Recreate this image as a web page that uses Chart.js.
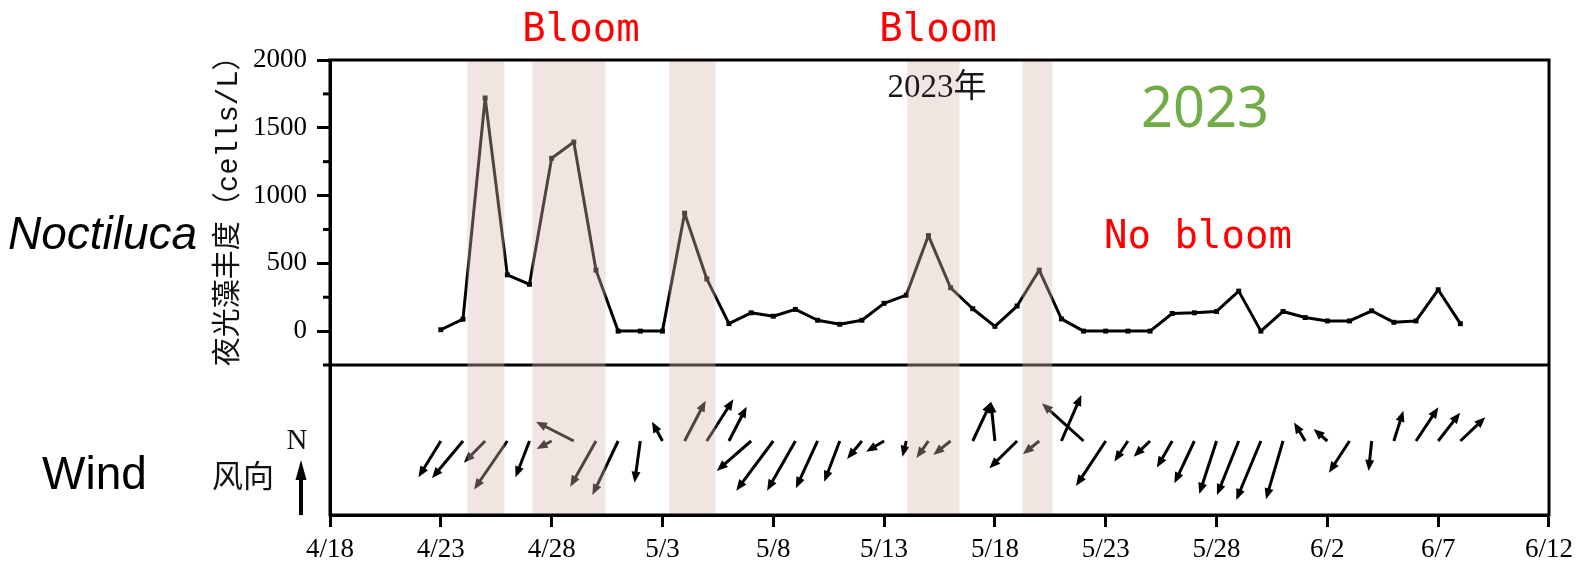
<!DOCTYPE html>
<html>
<head>
<meta charset="utf-8">
<script src="https://cdn.jsdelivr.net/npm/chart.js@4.4.0/dist/chart.umd.min.js"></script>
<style>
  html, body { margin: 0; padding: 0; background: #fff; }
  #wrap { width: 1580px; height: 569px; }
</style>
</head>
<body>
<div id="wrap"><canvas id="chart" width="1580" height="569"></canvas></div>
<script>
// daily samples, 2023
const sampleDates = [
    '4/23', '4/24', '4/25', '4/26', '4/27', '4/28', '4/29', '4/30',
    '5/1', '5/2', '5/3', '5/4', '5/5', '5/6', '5/7', '5/8', '5/9', '5/10',
    '5/11', '5/12', '5/13', '5/14', '5/15', '5/16', '5/17', '5/18', '5/19', '5/20',
    '5/21', '5/22', '5/23', '5/24', '5/25', '5/26', '5/27', '5/28', '5/29', '5/30', '5/31',
    '6/1', '6/2', '6/3', '6/4', '6/5', '6/6', '6/7', '6/8'
];

// Noctiluca abundance (cells/L)
const abundance = [
    10, 88, 1720, 415, 345, 1275, 1395, 450,
    0, 0, 0, 870, 385, 55, 135, 110, 160, 80,
    50, 80, 205, 265, 705, 320, 165, 35, 185, 450,
    90, 0, 0, 0, 0, 130, 135, 145, 295, 0, 145,
    100, 75, 75, 150, 65, 75, 305, 55
];

// wind vector components (east, north), in arrow-length units
const windU = [
    -1.01, -1.40, -0.96, -1.50, -0.63, -0.68, -1.71, -1.16,
    -1.16, -0.26, -0.47, 0.95, 1.20, 0.80, -1.55, -1.67, -1.28, -0.98,
    -0.70, -0.67, -0.81, -0.17, -0.54, -0.78, 0.83, -0.18, -1.25, -0.74,
    0.90, -1.88, -1.34, -0.61, -0.74, -0.69, -0.90, -0.78, -0.98, -1.11, -0.77,
    -0.50, -0.62, -0.93, -0.14, 0.43, 1.01, 0.99, 1.13
];
const windV = [
    -1.64, -1.68, -0.98, -2.19, -1.64, -0.36, 0.87, -2.06,
    -2.44, -1.88, 0.87, 1.82, 1.88, 1.55, -1.35, -2.24, -2.24, -2.13,
    -1.84, -0.81, -0.48, -0.71, -0.77, -0.63, 1.77, 1.77, -1.23, -0.60,
    2.08, 1.70, -2.03, -0.93, -0.71, -1.20, -1.91, -2.39, -2.44, -2.66, -2.63,
    0.84, 0.54, -1.43, -1.35, 1.37, 1.52, 1.28, 1.07
];

// bloom periods, in days after 4/18
const bloomStart = [6.2, 9.13, 15.31, 26.05, 31.24];
const bloomEnd = [7.87, 12.43, 17.39, 28.4, 32.59];

const xTickLabels = ['4/18', '4/23', '4/28', '5/3', '5/8', '5/13', '5/18', '5/23', '5/28', '6/2', '6/7', '6/12'];
const yTickValues = [0, 500, 1000, 1500, 2000];
const yMinorTicks = [-250, 250, 750, 1250, 1750];

const START = Date.UTC(2023, 3, 18);
function dayOf(label) {
    const [m, d] = label.split('/').map(Number);
    return (Date.UTC(2023, m - 1, d) - START) / 86400000;
}

const serif = "'Liberation Serif', 'Noto Sans CJK SC', serif";

function drawArrow(ctx, x0, y0, x1, y1, width, headLen, headHalf) {
    const ang = Math.atan2(y1 - y0, x1 - x0);
    const len = Math.hypot(x1 - x0, y1 - y0);
    ctx.save();
    ctx.translate(x0, y0);
    ctx.rotate(ang);
    ctx.lineWidth = width;
    ctx.lineCap = 'butt';
    ctx.beginPath();
    ctx.moveTo(0, 0);
    ctx.lineTo(len - headLen + 1, 0);
    ctx.stroke();
    ctx.beginPath();
    ctx.moveTo(len, 0);
    ctx.lineTo(len - headLen, -headHalf);
    ctx.lineTo(len - headLen, headHalf);
    ctx.closePath();
    ctx.fill();
    ctx.restore();
}

const panelDecor = {
    id: 'panelDecor',
    afterDatasetsDraw(chart) {
        const { ctx, chartArea, scales } = chart;
        const x = scales.x, y = scales.y, yw = scales.yWind;
        ctx.save();
        ctx.strokeStyle = '#000';
        ctx.fillStyle = '#000';
        ctx.lineWidth = 3;

        // divider between the two panels
        ctx.beginPath();
        ctx.moveTo(chartArea.left, yw.top);
        ctx.lineTo(chartArea.right, yw.top);
        ctx.stroke();

        // minor ticks on the abundance axis
        yMinorTicks.forEach(v => {
            const py = y.getPixelForValue(v);
            ctx.beginPath();
            ctx.moveTo(chartArea.left - 7, py);
            ctx.lineTo(chartArea.left, py);
            ctx.stroke();
        });

        // wind arrows
        sampleDates.forEach((d, i) => {
            const t = dayOf(d);
            drawArrow(ctx,
                x.getPixelForValue(t), yw.getPixelForValue(0),
                x.getPixelForValue(t + windU[i]), yw.getPixelForValue(windV[i]),
                3, 11, 4.5);
        });

        // bloom bands
        ctx.fillStyle = 'rgba(215,185,170,0.37)';
        bloomStart.forEach((s, i) => {
            const a = x.getPixelForValue(s);
            const b = x.getPixelForValue(bloomEnd[i]);
            ctx.fillRect(a, chartArea.top, b - a, chartArea.bottom - chartArea.top);
        });

        // frame
        ctx.strokeRect(chartArea.left, chartArea.top,
            chartArea.right - chartArea.left, chartArea.bottom - chartArea.top);
        ctx.restore();
    },
    afterDraw(chart) {
        const ctx = chart.ctx;
        ctx.save();
        ctx.textBaseline = 'alphabetic';

        ctx.fillStyle = '#ff0000';
        ctx.font = "39px 'DejaVu Sans Mono'";
        ctx.textAlign = 'center';
        ctx.fillText('Bloom', 581, 41);
        ctx.fillText('Bloom', 938, 41);
        ctx.fillText('No bloom', 1198, 248);

        ctx.fillStyle = '#70ad47';
        ctx.font = "56px 'Noto Sans'";
        ctx.fillText('2023', 1205, 127);

        ctx.fillStyle = '#1a1a1a';
        ctx.font = '33px ' + serif;
        ctx.fillText('2023年', 937, 97);

        ctx.fillStyle = '#000';
        ctx.textAlign = 'left';
        ctx.font = "italic 46px 'Liberation Sans'";
        ctx.fillText('Noctiluca', 8, 249);
        ctx.font = "46px 'Liberation Sans'";
        ctx.fillText('Wind', 42, 489);

        ctx.fillStyle = '#111';
        ctx.textBaseline = 'middle';
        ctx.font = "31px 'Noto Sans CJK SC'";
        ctx.fillText('风向', 212, 475);

        ctx.textAlign = 'center';
        ctx.font = '29px ' + serif;
        ctx.fillText('N', 297, 441);

        // north reference arrow
        ctx.strokeStyle = '#000';
        ctx.fillStyle = '#000';
        drawArrow(ctx, 301, 515, 301, 460, 4, 20, 5.5);
        ctx.restore();
    }
};

new Chart(document.getElementById('chart'), {
    type: 'line',
    data: {
        datasets: [{
            data: sampleDates.map((d, i) => ({ x: dayOf(d), y: abundance[i] })),
            yAxisID: 'y',
            borderColor: '#000',
            backgroundColor: '#000',
            borderWidth: 3,
            borderJoinStyle: 'round',
            pointStyle: 'rect',
            pointRadius: 3.5,
            pointHoverRadius: 3.5,
            pointBorderWidth: 0,
            tension: 0
        }]
    },
    options: {
        responsive: false,
        animation: false,
        devicePixelRatio: 1,
        layout: { padding: { left: 0, top: 60, right: 31, bottom: 0 } },
        plugins: {
            legend: { display: false },
            tooltip: { enabled: false }
        },
        scales: {
            x: {
                type: 'linear',
                position: 'bottom',
                min: 0,
                max: 55,
                afterBuildTicks: s => { s.ticks = xTickLabels.map(l => ({ value: dayOf(l) })); },
                afterFit: s => { s.height = 54; },
                ticks: {
                    callback: v => xTickLabels.find(l => dayOf(l) === v),
                    font: { family: serif, size: 27 },
                    color: '#000',
                    padding: 7,
                    maxRotation: 0,
                    autoSkip: false
                },
                grid: { drawOnChartArea: false, tickLength: 12, tickWidth: 3, tickColor: '#000' },
                border: { color: '#000', width: 3 }
            },
            y: {
                type: 'linear',
                position: 'left',
                stack: 'panel',
                stackWeight: 305,
                weight: 1,
                min: -250,
                max: 2000,
                afterBuildTicks: s => { s.ticks = yTickValues.map(v => ({ value: v })); },
                afterFit: s => { s.width = 330; },
                ticks: {
                    callback: v => String(v),
                    font: { family: serif, size: 27 },
                    color: '#000',
                    padding: 10
                },
                grid: { drawOnChartArea: false, tickLength: 13, tickWidth: 3, tickColor: '#000' },
                border: { color: '#000', width: 3 },
                title: {
                    display: true,
                    text: ' 夜光藻丰度（cells/L）',
                    font: { family: "'Liberation Mono', 'Noto Sans CJK SC', monospace", size: 29 },
                    color: '#111',
                    align: 'center',
                    padding: { top: 212, bottom: 0 }
                }
            },
            yWind: {
                type: 'linear',
                position: 'left',
                stack: 'panel',
                stackWeight: 150,
                weight: 0,
                min: -3.34,
                max: 3.43,
                afterFit: s => { s.width = 330; },
                ticks: { display: false },
                grid: { display: false, drawTicks: false },
                border: { color: '#000', width: 3 }
            }
        }
    },
    plugins: [panelDecor]
});
</script>
</body>
</html>
